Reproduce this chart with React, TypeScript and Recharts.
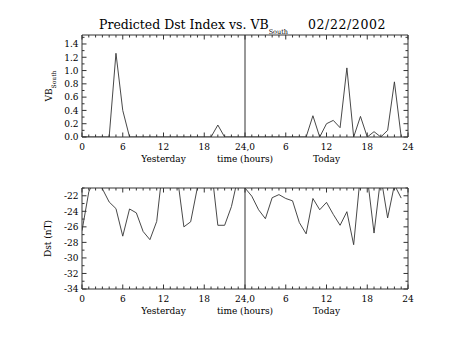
import React from 'react';
import { LineChart, Line, XAxis, YAxis, ReferenceLine } from 'recharts';

// Hours since start of "yesterday" (0..47)
const hours: number[] = Array.from({ length: 48 }, (_, i) => i);

const vbYesterday = [0, 0, 0, 0, 0, 1.26, 0.4, 0, 0, 0, 0, 0, 0, 0, 0, 0, 0, 0, 0, 0, 0.18, 0, 0, 0];
const vbToday = [0, 0, 0, 0, 0, 0, 0, 0, 0, 0, 0.32, 0, 0.2, 0.25, 0.14, 1.04, 0, 0.31, 0, 0.08, 0, 0.1, 0.83, 0];

const dstYesterday = [-26.5, -21.5, -19.5, -21.1, -22.8, -23.65, -27.2, -23.7, -24.2, -26.6, -27.65, -25.3, -17.5, -19.2, -19.3, -26.0, -25.35, -20.9, -19.5, -18.0, -25.8, -25.8, -23.4, -19.5];
const dstToday = [-21.0, -22.05, -23.8, -24.95, -22.25, -21.85, -22.35, -22.65, -25.45, -26.9, -22.35, -23.8, -22.85, -24.4, -25.8, -24.05, -28.3, -19.2, -19.5, -26.8, -19.5, -24.85, -20.6, -22.3];

const xTicks: number[] = Array.from({ length: 49 }, (_, i) => i);
const xMajorLabels: Record<number, string> = { 0: '0', 6: '6', 12: '12', 18: '18', 24: '24,0', 30: '6', 36: '12', 42: '18', 48: '24' };
const xSubLabels: Record<number, string> = { 12: 'Yesterday', 24: 'time (hours)', 36: 'Today' };

const vbTicks = [0, 0.1, 0.2, 0.3, 0.4, 0.5, 0.6, 0.7, 0.8, 0.9, 1.0, 1.1, 1.2, 1.3, 1.4, 1.5];
const vbMajor = [0, 0.2, 0.4, 0.6, 0.8, 1.0, 1.2, 1.4];
const dstTicks = [-34, -33, -32, -31, -30, -29, -28, -27, -26, -25, -24, -23, -22, -21];
const dstMajor = [-34, -32, -30, -28, -26, -24, -22];

const vbData = hours.map((h) => ({ h, v: h < 24 ? vbYesterday[h] : vbToday[h - 24] }));
const dstData = hours.map((h) => ({ h, v: h < 24 ? dstYesterday[h] : dstToday[h - 24] }));

const FONT = '"DejaVu Serif", "Liberation Serif", serif';
const INK = '#000';
const LINE = '#333';
const MAJ = 4.5;
const MIN = 2.5;

const BottomTick = (props: any) => {
  const { x, y, payload } = props;
  const v = payload.value as number;
  const major = v % 6 === 0;
  return (
    <g>
      <line x1={x} x2={x} y1={y} y2={y - (major ? MAJ : MIN)} stroke={LINE} strokeWidth={1} />
      {major && (
        <text x={x} y={y + 13} textAnchor="middle" fontSize={9} fontFamily={FONT} fill={INK}>
          {xMajorLabels[v]}
        </text>
      )}
      {xSubLabels[v] && (
        <text x={x} y={y + 25} textAnchor="middle" fontSize={9} fontFamily={FONT} fill={INK}>
          {xSubLabels[v]}
        </text>
      )}
    </g>
  );
};

const TopTick = (props: any) => {
  const { x, y, payload } = props;
  const v = payload.value as number;
  const major = v % 6 === 0;
  return <line x1={x} x2={x} y1={y} y2={y + (major ? MAJ : MIN)} stroke={LINE} strokeWidth={1} />;
};

const makeLeftTick = (majors: number[], fmt: (v: number) => string) => (props: any) => {
  const { x, y, payload } = props;
  const v = payload.value as number;
  const major = majors.some((m) => Math.abs(m - v) < 1e-6);
  return (
    <g>
      <line x1={x} x2={x + (major ? MAJ : MIN)} y1={y} y2={y} stroke={LINE} strokeWidth={1} />
      {major && (
        <text x={x - 3.5} y={y + 3.3} textAnchor="end" fontSize={9} fontFamily={FONT} fill={INK}>
          {fmt(v)}
        </text>
      )}
    </g>
  );
};

const makeRightTick = (majors: number[]) => (props: any) => {
  const { x, y, payload } = props;
  const v = payload.value as number;
  const major = majors.some((m) => Math.abs(m - v) < 1e-6);
  return <line x1={x} x2={x - (major ? MAJ : MIN)} y1={y} y2={y} stroke={LINE} strokeWidth={1} />;
};

const VbLeftTick = makeLeftTick(vbMajor, (v) => v.toFixed(1));
const DstLeftTick = makeLeftTick(dstMajor, (v) => String(v));
const VbRightTick = makeRightTick(vbMajor);
const DstRightTick = makeRightTick(dstMajor);

const VbAxisLabel = (props: any) => {
  const vb = props.viewBox || {};
  const cx = 52;
  const cy = (vb.y ?? 35) + (vb.height ?? 102) / 2;
  return (
    <text transform={`translate(${cx},${cy}) rotate(-90)`} textAnchor="middle" fontSize={9} fontFamily={FONT} fill={INK}>
      VB<tspan fontSize={6} dy={3.5}>South</tspan>
    </text>
  );
};

const DstAxisLabel = (props: any) => {
  const vb = props.viewBox || {};
  const cx = 51;
  const cy = (vb.y ?? 18) + (vb.height ?? 101) / 2;
  return (
    <text transform={`translate(${cx},${cy}) rotate(-90)`} textAnchor="middle" fontSize={9} fontFamily={FONT} fill={INK}>
      Dst (nT)
    </text>
  );
};

const axisLine = { stroke: LINE, strokeWidth: 1 };

export default function App() {
  return (
    <div style={{ position: 'absolute', left: 0, top: 0, width: 454, height: 341, background: '#fff' }}>
      <svg width={454} height={40} style={{ position: 'absolute', left: 0, top: 0 }}>
        <text x={99} y={29.3} fontSize={12.5} fontFamily={FONT} fill={INK}>
          Predicted Dst Index vs. VB
          <tspan fontSize={6.5} dy={5}>South</tspan>
        </text>
        <text x={308} y={29.3} fontSize={12.5} letterSpacing={0.6} fontFamily={FONT} fill={INK}>
          02/22/2002
        </text>
      </svg>

      <div style={{ position: 'absolute', left: 0, top: 0 }}>
        <LineChart width={454} height={170} data={vbData} margin={{ top: 34, right: 45, bottom: 32, left: 81 }}>
          <XAxis dataKey="h" type="number" domain={[0, 48]} ticks={xTicks} interval={0} height={1} tickSize={0} tickMargin={0}
            tickLine={false} axisLine={axisLine} tick={<BottomTick />} allowDataOverflow />
          <XAxis xAxisId="top" orientation="top" dataKey="h" type="number" domain={[0, 48]} ticks={xTicks} interval={0} height={1}
            tickSize={0} tickMargin={0} tickLine={false} axisLine={axisLine} tick={<TopTick />} allowDataOverflow />
          <YAxis type="number" domain={[0, 1.535]} ticks={vbTicks} interval={0} width={1} tickSize={0} tickMargin={0}
            tickLine={false} axisLine={axisLine} tick={<VbLeftTick />} allowDataOverflow label={<VbAxisLabel />} />
          <YAxis yAxisId="right" orientation="right" type="number" domain={[0, 1.535]} ticks={vbTicks} interval={0} width={1}
            tickSize={0} tickMargin={0} tickLine={false} axisLine={axisLine} tick={<VbRightTick />} allowDataOverflow />
          <ReferenceLine x={24} stroke={LINE} strokeWidth={1} />
          <Line dataKey="v" stroke={LINE} strokeWidth={0.9} dot={false} isAnimationActive={false} type="linear" />
        </LineChart>
      </div>

      <div style={{ position: 'absolute', left: 0, top: 170 }}>
        <LineChart width={454} height={171} data={dstData} margin={{ top: 17, right: 45, bottom: 51, left: 81 }}>
          <XAxis dataKey="h" type="number" domain={[0, 48]} ticks={xTicks} interval={0} height={1} tickSize={0} tickMargin={0}
            tickLine={false} axisLine={axisLine} tick={<BottomTick />} allowDataOverflow />
          <XAxis xAxisId="top" orientation="top" dataKey="h" type="number" domain={[0, 48]} ticks={xTicks} interval={0} height={1}
            tickSize={0} tickMargin={0} tickLine={false} axisLine={axisLine} tick={<TopTick />} allowDataOverflow />
          <YAxis type="number" domain={[-34, -21]} ticks={dstTicks} interval={0} width={1} tickSize={0} tickMargin={0}
            tickLine={false} axisLine={axisLine} tick={<DstLeftTick />} allowDataOverflow label={<DstAxisLabel />} />
          <YAxis yAxisId="right" orientation="right" type="number" domain={[-34, -21]} ticks={dstTicks} interval={0} width={1}
            tickSize={0} tickMargin={0} tickLine={false} axisLine={axisLine} tick={<DstRightTick />} allowDataOverflow />
          <ReferenceLine x={24} stroke={LINE} strokeWidth={1} />
          <Line dataKey="v" stroke={LINE} strokeWidth={0.9} dot={false} isAnimationActive={false} type="linear" />
        </LineChart>
      </div>
    </div>
  );
}
